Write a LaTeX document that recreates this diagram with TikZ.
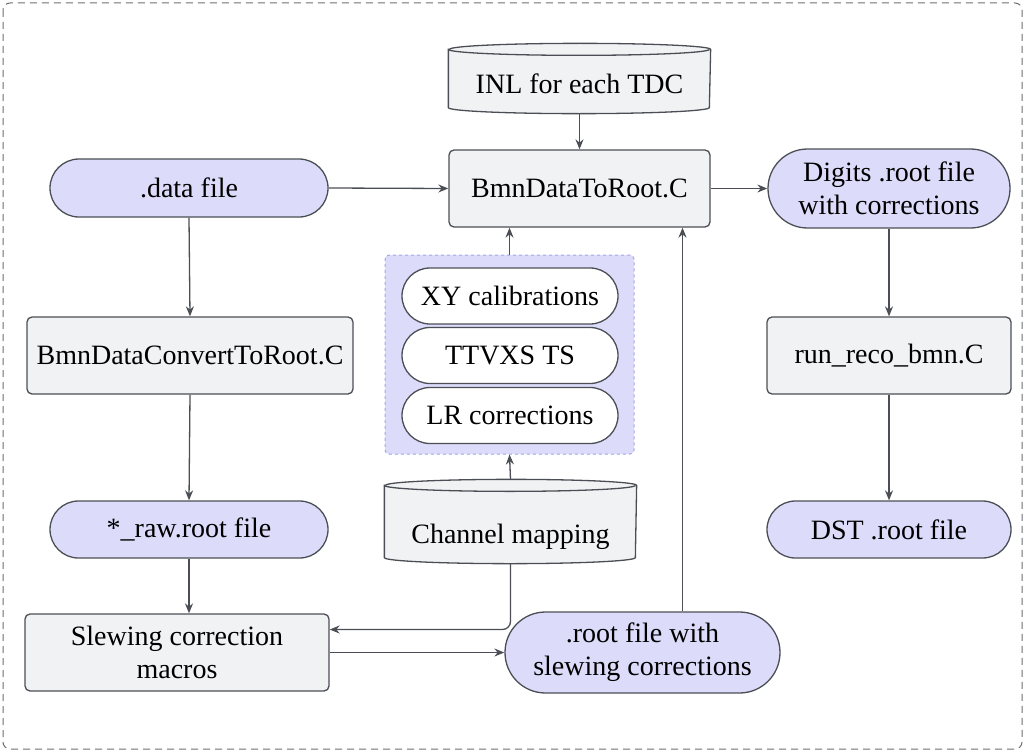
\documentclass[tikz,border=0pt]{standalone}
\usepackage{fontspec}
\setmainfont{Liberation Serif}
\usetikzlibrary{shapes.misc,arrows.meta}
\definecolor{boxgray}{HTML}{F1F2F4}
\definecolor{lav}{HTML}{DCDCFA}
\definecolor{edgec}{HTML}{4B4F55}
\definecolor{grpfill}{HTML}{DCDCFA}
\definecolor{grpline}{HTML}{A4A4EC}
\definecolor{framec}{HTML}{6B6F75}
\tikzset{
  base/.style={draw=edgec, line width=1.3pt, inner sep=0pt, align=center,
    font=\fontsize{28}{33}\selectfont},
  procbox/.style={base, rectangle, rounded corners=5pt, fill=boxgray},
  termbox/.style={base, rounded rectangle, fill=lav},
  pillbox/.style={base, rounded rectangle, fill=white},
  cylnode/.style={base, draw=none, rectangle},
  grpbox/.style={rectangle, draw=grpline, fill=grpfill, dashed, line width=1pt,
    rounded corners=4pt, inner sep=0pt},
  arr/.style={draw=edgec, line width=1.3pt, -{Stealth[length=10pt,width=8pt]}},
  cylline/.style={draw=edgec, line width=1.3pt, fill=boxgray},
}
\newcommand{\mycyl}[2]{% node name, y radius (pt)
  \path[cylline] ([yshift=-#2]#1.north west) -- ([yshift=#2]#1.south west)
    arc[start angle=180, end angle=360, x radius={0.5*\pgfkeysvalueof{/tmp/w}}, y radius=#2]
    -- ([yshift=-#2]#1.north east)
    arc[start angle=0, end angle=180, x radius={0.5*\pgfkeysvalueof{/tmp/w}}, y radius=#2] -- cycle;
  \draw[draw=edgec, line width=1.3pt] ([yshift=-#2]#1.north west)
    arc[start angle=180, end angle=360, x radius={0.5*\pgfkeysvalueof{/tmp/w}}, y radius=#2];
}
\pgfkeys{/tmp/w/.initial=100pt}
\begin{document}
\begin{tikzpicture}[x=1pt,y=-1pt]
\useasboundingbox (0,0) rectangle (1025,752);
\draw[framec, line width=1pt, dash pattern=on 7pt off 5pt, rounded corners=7pt] (3,3) rectangle (1022,749);

% group box
\node[grpbox, minimum width=249pt, minimum height=199pt] (grp) at (509.5,354.5) {};
\node[pillbox, minimum width=216pt, minimum height=56pt] (xy) at (510,296) {XY calibrations};
\node[pillbox, minimum width=216pt, minimum height=56pt] (tt) at (510,355.5) {TTVXS TS};
\node[pillbox, minimum width=216pt, minimum height=56pt] (lr) at (510,415.5) {LR corrections};

% cylinders
\node[cylnode, minimum width=261pt, minimum height=69pt] (inl) at (579.5,78.5) {};
\pgfkeys{/tmp/w=261pt}
\mycyl{inl}{6pt}
\node[base, draw=none] (inlt) at (579.5,84) {INL for each TDC};

\node[cylnode, minimum width=251pt, minimum height=83pt] (chm) at (510.5,521.5) {};
\pgfkeys{/tmp/w=251pt}
\mycyl{chm}{6pt}
\node[base, draw=none] (chmt) at (510.5,537) {Channel mapping};

% process boxes
\node[procbox, minimum width=261pt, minimum height=77pt] (b2r) at (579.5,188.5) {BmnDataToRoot.C};
\node[procbox, minimum width=326pt, minimum height=77pt] (conv) at (190,355.5) {BmnDataConvertToRoot.C};
\node[procbox, minimum width=244pt, minimum height=77pt] (reco) at (889,355.5) {run\_reco\_bmn.C};
\node[procbox, minimum width=304pt, minimum height=77pt] (slew) at (177,652.5) {Slewing correction\\macros};

% terminals
\node[termbox, minimum width=278pt, minimum height=58pt] (data) at (189,188) {.data file};
\node[termbox, minimum width=242pt, minimum height=79pt] (digi) at (889,188.5) {Digits .root file\\with corrections};
\node[termbox, minimum width=278pt, minimum height=57pt] (raw) at (189,529.5) {*\_raw.root file};
\node[termbox, minimum width=244pt, minimum height=57pt] (dst) at (889,529.5) {DST .root file};
\node[termbox, minimum width=275pt, minimum height=81pt] (rsl) at (642.5,652.5) {.root file with\\slewing corrections};

% connectors
\draw[arr] (inl.south) -- (b2r.north);
\draw[arr] (data.east) -- (b2r.west);
\draw[arr] (b2r.east) -- (digi.west);
\draw[arr] (digi.south) -- (reco.north);
\draw[arr] (reco.south) -- (dst.north);
\draw[arr] (data.south) -- (conv.north);
\draw[arr] (conv.south) -- (raw.north);
\draw[arr] (raw.south) -- (raw.south |- slew.north);
\draw[arr] (grp.north) -- (grp.north |- b2r.south);
\draw[arr] (chm.north) -- (grp.south);
\draw[arr, rounded corners=8pt] (chm.south) |- ([yshift=23pt]slew.east);
\draw[arr] (slew.east) -- (rsl.west);
\draw[arr] ([xshift=40pt]rsl.north) -- ([xshift=40pt]rsl.north |- b2r.south);
\end{tikzpicture}
\end{document}
